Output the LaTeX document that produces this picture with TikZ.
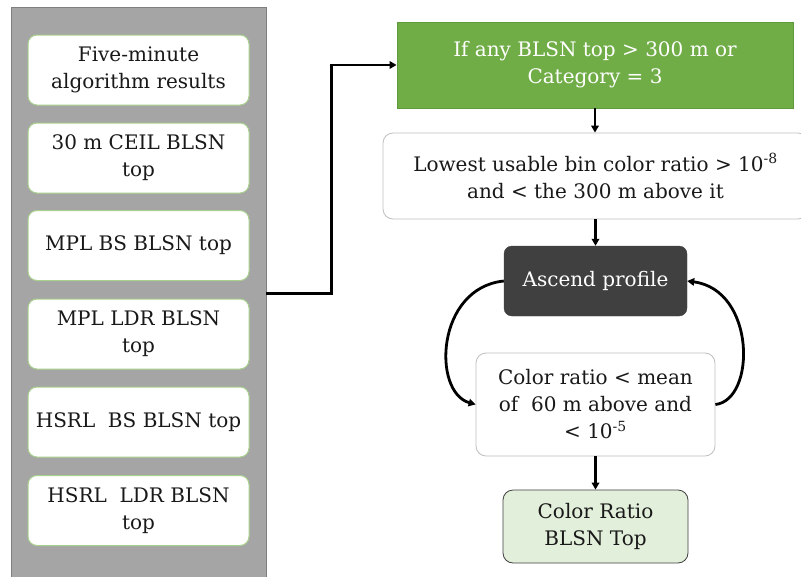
\documentclass[tikz,border=0pt]{standalone}
\usepackage{fontspec}
\setmainfont{DejaVu Serif}
\usetikzlibrary{arrows.meta,calc}
\definecolor{panelgray}{HTML}{A5A5A5}
\definecolor{paneledge}{HTML}{7F7F7F}
\definecolor{lgreen}{HTML}{A9D18E}
\definecolor{mgreen}{HTML}{70AD47}
\definecolor{mgreenedge}{HTML}{5E9A3A}
\definecolor{pgreen}{HTML}{E2EFDA}
\definecolor{darkbox}{HTML}{404040}
\definecolor{boxedge}{HTML}{BFBFBF}
\begin{document}
\begin{tikzpicture}[x=1pt,y=-1pt,
  txt/.style={font=\fontsize{20}{27}\selectfont, align=center, inner sep=0pt, text=black!90},
  panel/.style={fill=panelgray, draw=paneledge, line width=0.8pt, inner sep=0pt},
  inbox/.style={txt, fill=white, draw=lgreen, line width=1pt, rounded corners=9pt,
     minimum width=221pt, minimum height=70pt},
  greenbox/.style={txt, fill=mgreen, draw=mgreenedge, line width=0.8pt, text=white,
     minimum width=396pt, minimum height=86pt},
  whitebox/.style={txt, fill=white, draw=boxedge, line width=0.8pt, rounded corners=10pt},
  darkstep/.style={txt, fill=darkbox, draw=darkbox, text=white, rounded corners=8pt,
     minimum width=183pt, minimum height=70pt},
  finalbox/.style={txt, fill=pgreen, draw=black!75, line width=0.8pt, rounded corners=10pt,
     minimum width=185pt, minimum height=73pt},
  arr/.style={-{Triangle[length=7pt,width=7.5pt]}, line width=2.8pt, black}
]
\useasboundingbox (0,0) rectangle (801,576);
\fill[white] (0,0) rectangle (801,576);

\node[panel, minimum width=255pt, minimum height=573pt] (panel) at (138.5,293.5) {};

\node[inbox] (b1) at (138.5,70) {Five-minute\\algorithm results};
\node[inbox] (b2) at (138.5,158) {30 m CEIL BLSN\\top};
\node[inbox] (b3) at (138.5,245.5) {MPL BS BLSN top};
\node[inbox] (b4) at (138.5,334) {MPL LDR BLSN\\top};
\node[inbox] (b5) at (138.5,422) {HSRL\ \ BS BLSN top};
\node[inbox] (b6) at (138.5,510.5) {HSRL\ \ LDR BLSN\\top};

\node[greenbox] (green) at (595,65) {If any BLSN top > 300 m or\\Category = 3};
\node[whitebox, minimum width=425pt, minimum height=86pt] (low) at (595.5,176)
  {Lowest usable bin color ratio > 10\textsuperscript{-8}\\and < the 300 m above it};
\node[darkstep] (dark) at (595.5,281) {Ascend profile};
\node[whitebox, minimum width=239pt, minimum height=103pt] (cr) at (595.5,404.5)
  {Color ratio < mean\\of\ \ 60 m above and\\< 10\textsuperscript{-5}};
\node[finalbox] (final) at (595.5,526.5) {Color Ratio\\BLSN Top};

\draw[arr] (panel.east) -- ++(65,0) |- (green.west);
\draw[arr] (green.south) -- (green.south |- low.north);
\draw[arr] (low.south -| dark.north) -- (dark.north);
\draw[arr] (dark.west) .. controls (436,288) and (432,392) .. (cr.west);
\draw[arr] (cr.east) .. controls (756,400) and (756,290) .. (dark.east);
\draw[arr] (cr.south) -- (final.north);
\end{tikzpicture}
\end{document}
